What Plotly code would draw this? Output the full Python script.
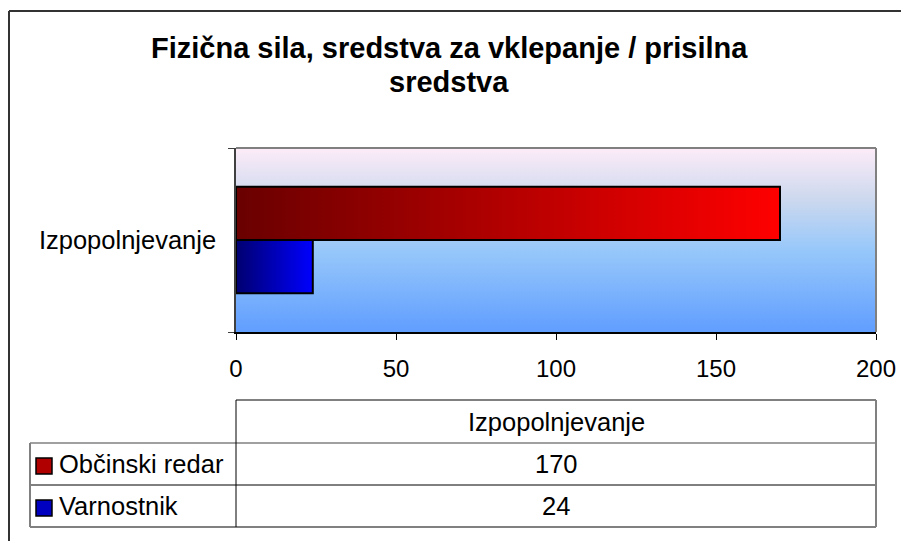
import plotly.graph_objects as go

# ---- data ----
title_lines = ["Fizična sila, sredstva za vklepanje / prisilna", "sredstva"]
categories = ["Izpopolnjevanje"]
series_names = ["Občinski redar", "Varnostnik"]
values_obcinski = [170]
values_varnostnik = [24]
x_ticks = [0, 50, 100, 150, 200]

series_values = [values_obcinski, values_varnostnik]
series_grad = [
    [[0, "#690000"], [1, "#FF0000"]],
    [[0, "#000070"], [1, "#0000FF"]],
]
series_key = ["#B00000", "#0000C0"]

W, H = 909, 541
OFF = 8  # page body margin offset
FONT = "Arial, Liberation Sans, sans-serif"
TXT = 25.5


def px(x):
    return (x - OFF) / W


def py(y):
    return 1 - (y - OFF) / H


# plot area in (screen) pixels
PL, PR, PT, PB = 236, 876, 148, 332

fig = go.Figure()

# plot-area gradient background (spans the axis ranges)
cat_lo = -0.5
cat_hi = len(categories) - 0.5
fig.add_trace(go.Scatter(
    x=[x_ticks[0], x_ticks[-1], x_ticks[-1], x_ticks[0], x_ticks[0]],
    y=[cat_lo, cat_lo, cat_hi, cat_hi, cat_lo],
    mode="lines", fill="toself", line=dict(width=0),
    fillgradient=dict(type="vertical", colorscale=[
        [0.0, "#609EFF"], [0.45, "#98C8FA"], [0.72, "#CCD8EE"], [1.0, "#FDECF8"]]),
    hoverinfo="skip", showlegend=False))

# bars (gradient-filled rectangles computed from the values)
bargap = 0.42
n = len(series_names)
w = (1 - bargap) / n
for ci, cat in enumerate(categories):
    top = ci + (1 - bargap) / 2
    for si, name in enumerate(series_names):
        v = series_values[si][ci]
        y1 = top - si * w
        y0 = y1 - w
        fig.add_trace(go.Scatter(
            x=[0, v, v, 0, 0], y=[y0, y0, y1, y1, y0],
            mode="lines", fill="toself",
            line=dict(color="black", width=2),
            fillgradient=dict(type="horizontal", colorscale=series_grad[si]),
            name=name, showlegend=False, hoverinfo="x+name"))

fig.update_layout(
    width=W, height=H,
    margin=dict(l=0, r=0, t=0, b=0),
    paper_bgcolor="white", plot_bgcolor="rgba(0,0,0,0)",
    font=dict(family=FONT, size=TXT, color="black"),
    showlegend=False,
    xaxis=dict(
        domain=[px(PL), px(PR)], range=[x_ticks[0], x_ticks[-1]],
        tickvals=x_ticks, ticks="outside", ticklen=6, tickcolor="black",
        showline=True, linecolor="black", linewidth=1.5,
        showgrid=False, zeroline=False, ticklabelstandoff=8,
        tickfont=dict(size=24), automargin=False, fixedrange=True),
    yaxis=dict(
        domain=[py(PB), py(PT)], range=[cat_lo, cat_hi],
        tickvals=list(range(len(categories))), ticktext=categories,
        ticks="", showline=True, linecolor="#404040", linewidth=1.5,
        showgrid=False, zeroline=False, ticklabelstandoff=13,
        minor=dict(tickmode="array",
                   tickvals=[i - 0.5 for i in range(len(categories) + 1)],
                   ticks="outside", ticklen=6, tickcolor="#404040"),
        tickfont=dict(size=TXT), automargin=False, fixedrange=True),
)

shapes = []
# plot area border (top and right)
shapes.append(dict(type="line", xref="paper", yref="paper",
                   x0=px(PL), x1=px(PR), y0=py(PT), y1=py(PT),
                   line=dict(color="#808080", width=2)))
shapes.append(dict(type="line", xref="paper", yref="paper",
                   x0=px(PR), x1=px(PR), y0=py(PT), y1=py(PB),
                   line=dict(color="#808080", width=2)))
# outer chart border (left and top visible)
shapes.append(dict(type="line", xref="paper", yref="paper",
                   x0=px(9), x1=px(9), y0=py(11), y1=py(H + 20),
                   line=dict(color="#333333", width=2)))
shapes.append(dict(type="line", xref="paper", yref="paper",
                   x0=px(9), x1=px(W + 20), y0=py(11), y1=py(11),
                   line=dict(color="#333333", width=2)))

# data table
T_TOP, R1, R2, T_BOT = 400, 443, 485, 527
T_LEFT = 30
gray = "#808080"


def hline(x0, x1, y, color, wdt):
    shapes.append(dict(type="line", xref="paper", yref="paper",
                       x0=px(x0), x1=px(x1), y0=py(y), y1=py(y),
                       line=dict(color=color, width=wdt)))


def vline(x, y0, y1, color, wdt):
    shapes.append(dict(type="line", xref="paper", yref="paper",
                       x0=px(x), x1=px(x), y0=py(y0), y1=py(y1),
                       line=dict(color=color, width=wdt)))


hline(PL, PR, T_TOP, gray, 2)
hline(T_LEFT, PR, R1, gray, 1.5)
hline(T_LEFT, PR, R2, "black", 1)
hline(T_LEFT, PR, T_BOT, gray, 2)
vline(T_LEFT, R1, T_BOT, gray, 2)
vline(PL, T_TOP, T_BOT, "black", 1)
vline(PR, T_TOP, T_BOT, gray, 2)

annotations = []
annotations.append(dict(xref="paper", yref="paper", x=px((PL + PR) / 2),
                        y=py((T_TOP + R1) / 2), text=categories[0],
                        showarrow=False, xanchor="center", yanchor="middle",
                        font=dict(size=TXT)))
rows = [(R1, R2), (R2, T_BOT)]
for si, name in enumerate(series_names):
    ya, yb = rows[si]
    yc = (ya + yb) / 2
    shapes.append(dict(type="rect", xref="paper", yref="paper",
                       x0=px(36), x1=px(52), y0=py(yc - 6), y1=py(yc + 10),
                       fillcolor=series_key[si], line=dict(color="black", width=1.5)))
    annotations.append(dict(xref="paper", yref="paper", x=px(57), y=py(yc),
                            text=name, showarrow=False, xanchor="left",
                            yanchor="middle", font=dict(size=TXT)))
    annotations.append(dict(xref="paper", yref="paper", x=px((PL + PR) / 2),
                            y=py(yc), text=str(series_values[si][0]),
                            showarrow=False, xanchor="center", yanchor="middle",
                            font=dict(size=TXT)))

# title (two lines)
for ty, line in zip([48, 82], title_lines):
    annotations.append(dict(xref="paper", yref="paper", x=px(449), y=py(ty),
                            text="<b>" + line + "</b>",
                            showarrow=False, xanchor="center", yanchor="middle",
                            font=dict(size=29)))

fig.update_layout(shapes=shapes, annotations=annotations)
fig.write_html("out.html")
